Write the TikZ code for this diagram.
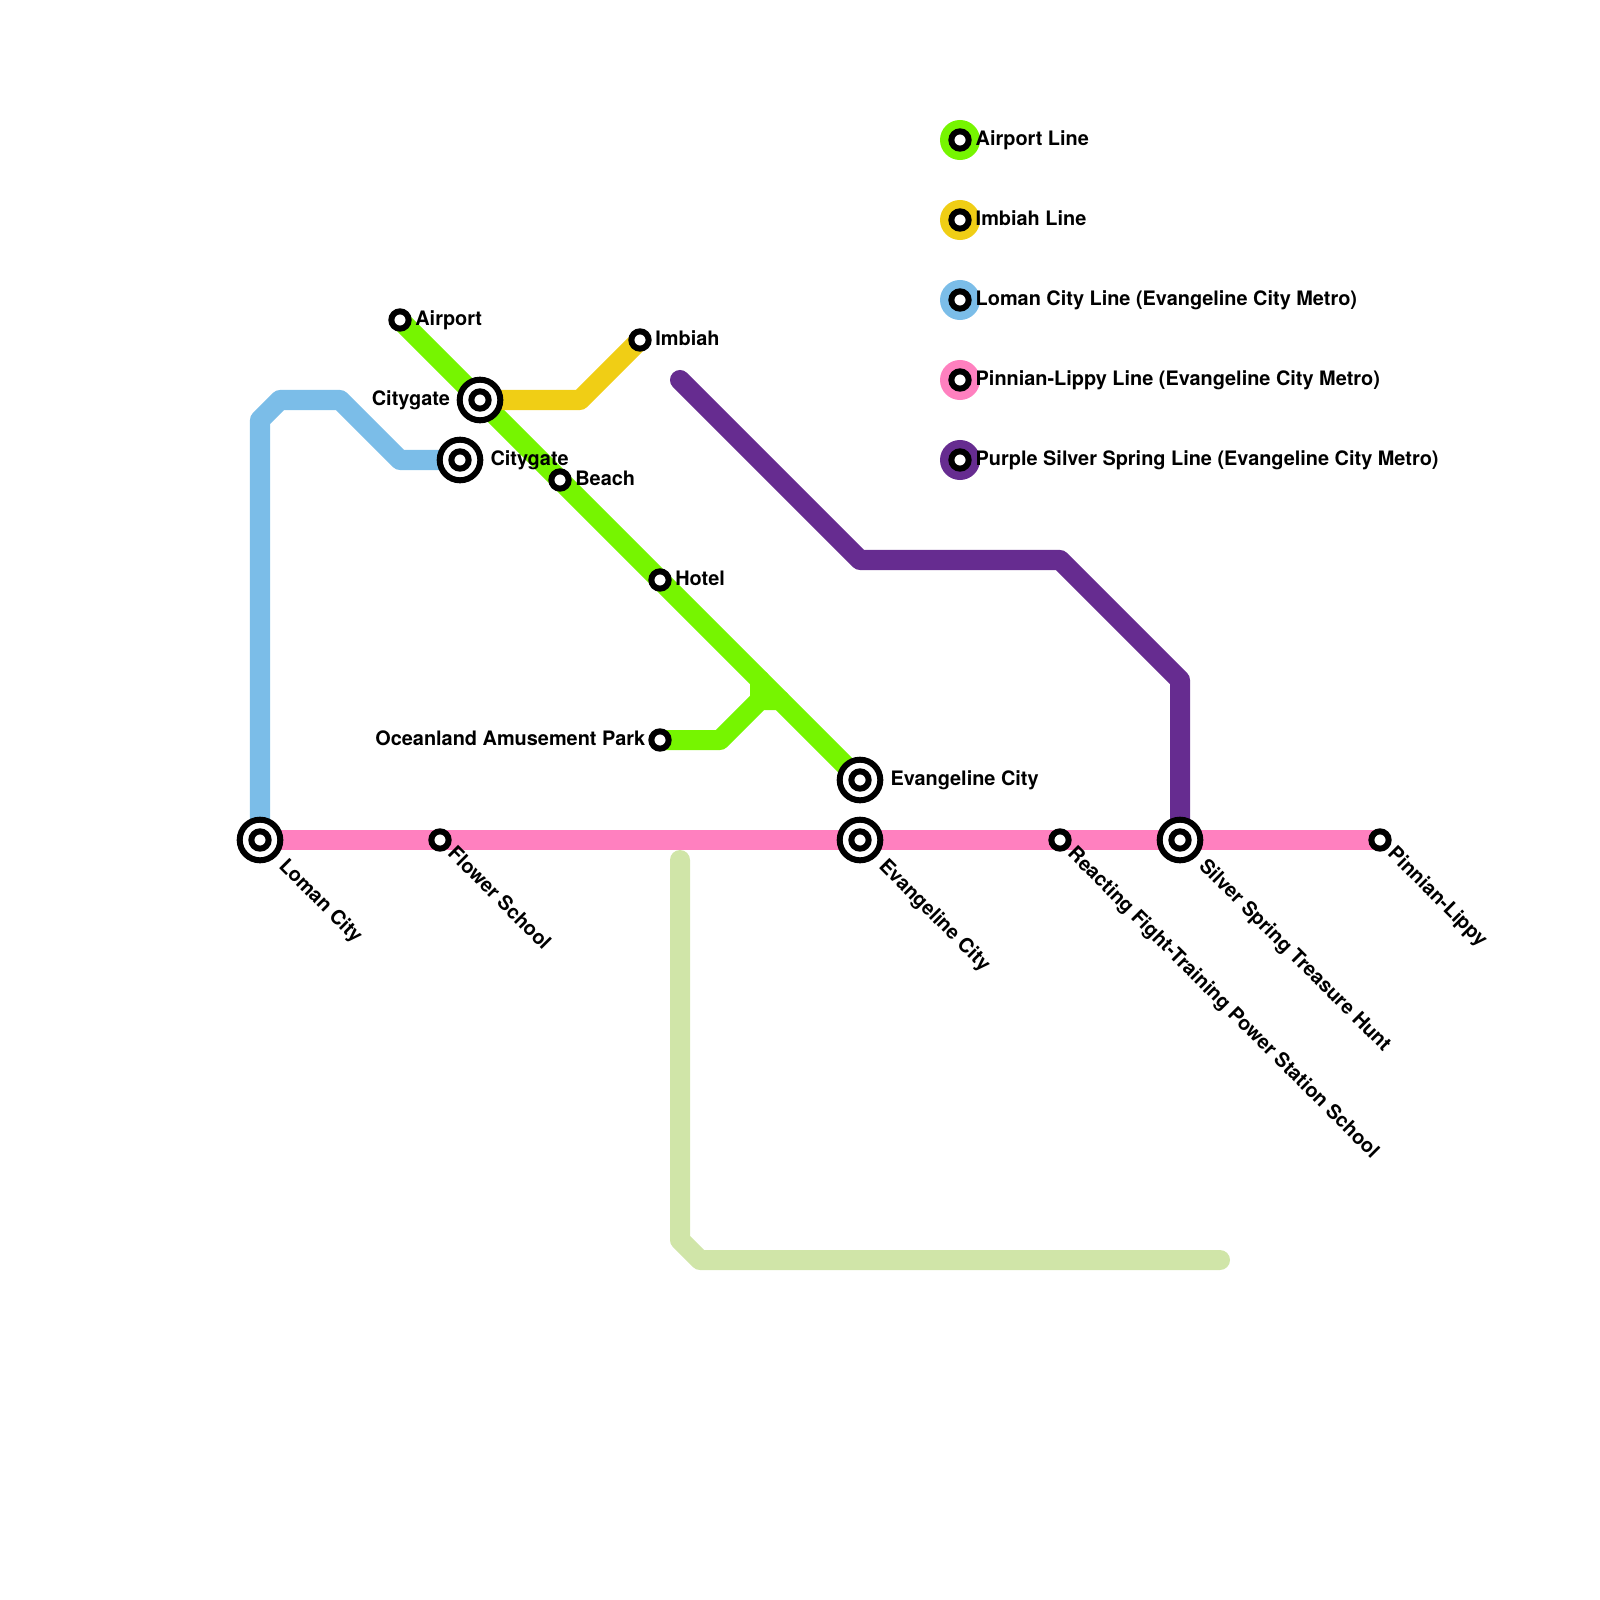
\documentclass[tikz,border=0pt]{standalone}
\usepackage{fontspec}
\setmainfont{TeX Gyre Heros}
\usetikzlibrary{positioning,backgrounds}
\definecolor{airportcol}{HTML}{76F500}
\definecolor{imbiahcol}{HTML}{F0CE15}
\definecolor{lomancol}{HTML}{7BBDE8}
\definecolor{pinniancol}{HTML}{FF80BF}
\definecolor{silvercol}{HTML}{662C90}
\definecolor{palecol}{HTML}{D0E5A8}
\tikzset{
  route/.style={line width=2mm,line cap=round,line join=round},
  stop/.style={circle,draw=black,fill=white,line width=.6mm,minimum size=1.73mm,inner sep=0pt},
  bigstop/.style={stop,minimum size=4.06mm},
  keydisc/.style={circle,minimum size=4mm,inner sep=0pt},
  stationlabel/.style={font=\fontsize{5.66pt}{6.5pt}\selectfont\bfseries,inner sep=0pt,text height=1.6mm,text depth=.45mm},
  turnlabel/.style={xshift=.21mm,yshift=-.21mm,stationlabel,rotate=-45,anchor=west},
  bigturn/.style={xshift=.3mm,yshift=-.4mm,turnlabel},
}
\newcommand{\interchange}[2]{
  \node (#1) [bigstop] at (#2) {};
  \node (#1hub) [stop] at (#1) {};
}
\begin{document}
\begin{tikzpicture}[x=.01cm,y=-.01cm,node distance=.3mm]
\useasboundingbox (0,0) rectangle (1600,1600);
% stations
\node (airport) [stop] at (400,320) {};
\node (imbiah) [stop] at (640,340) {};
\node (beach) [stop] at (560,480) {};
\node (hotel) [stop] at (660,580) {};
\node (oceanland) [stop] at (660,740) {};
\node (flower) [stop] at (440,840) {};
\node (reacting) [stop] at (1060,840) {};
\node (pinnian) [stop] at (1380,840) {};
\interchange{citygateup}{480,400}
\interchange{citygatelow}{460,460}
\interchange{evangup}{860,780}
\interchange{evanglow}{860,840}
\interchange{loman}{260,840}
\interchange{silver}{1180,840}
% routes
\begin{scope}[on background layer]
\draw[route,palecol] (680,860) -- (680,1240) -- (700,1260) -- (1220,1260);
\draw[route,lomancol] (loman.center) -- (260,420) -- (280,400) -- (340,400) -- (400,460) -- (citygatelow.center);
\draw[route,airportcol] (airport.center) -- (evangup.center);
\draw[route,airportcol] (oceanland.center) -- (720,740) -- (760,700) -- (780,700);
\draw[route,airportcol] (760,680) -- (760,700);
\draw[route,imbiahcol] (citygateup.center) -- (580,400) -- (imbiah.center);
\draw[route,silvercol] (680,380) -- (860,560) -- (1060,560) -- (1180,680) -- (silver.center);
\draw[route,pinniancol] (loman.center) -- (pinnian.center);
\end{scope}
% labels
\node (airportlbl) [stationlabel,right=of airport] {Airport};
\node (imbiahlbl) [stationlabel,right=of imbiah] {Imbiah};
\node (beachlbl) [stationlabel,right=of beach] {Beach};
\node (hotellbl) [stationlabel,right=of hotel] {Hotel};
\node (oceanlandlbl) [stationlabel,left=.25mm of oceanland] {Oceanland Amusement Park};
\node (citygateuplbl) [stationlabel,left=.6mm of citygateup] {Citygate};
\node (citygatelowlbl) [stationlabel,right=.65mm of citygatelow] {Citygate};
\node (evanguplbl) [stationlabel,right=.65mm of evangup] {Evangeline City};
\node (lomanlbl) [bigturn] at (loman.south east) {Loman City};
\node (flowerlbl) [turnlabel] at (flower.south east) {Flower School};
\node (evanglowlbl) [bigturn] at (evanglow.south east) {Evangeline City};
\node (reactinglbl) [turnlabel] at (reacting.south east) {Reacting Fight-Training Power Station School};
\node (silverlbl) [bigturn] at (silver.south east) {Silver Spring Treasure Hunt};
\node (pinnianlbl) [turnlabel] at (pinnian.south east) {Pinnian-Lippy};
% key
\foreach \keyname/\keycol/\keyy/\keytext in {
  keyairport/airportcol/140/Airport Line,
  keyimbiah/imbiahcol/220/Imbiah Line,
  keyloman/lomancol/300/Loman City Line (Evangeline City Metro),
  keypinnian/pinniancol/380/Pinnian-Lippy Line (Evangeline City Metro),
  keysilver/silvercol/460/Purple Silver Spring Line (Evangeline City Metro)}{
  \node (\keyname disc) [keydisc,fill=\keycol] at (960,\keyy) {};
  \node (\keyname) [stop] at (960,\keyy) {};
  \node (\keyname lbl) [stationlabel,anchor=west] at (975,\keyy) {\keytext};
}
\end{tikzpicture}
\end{document}
